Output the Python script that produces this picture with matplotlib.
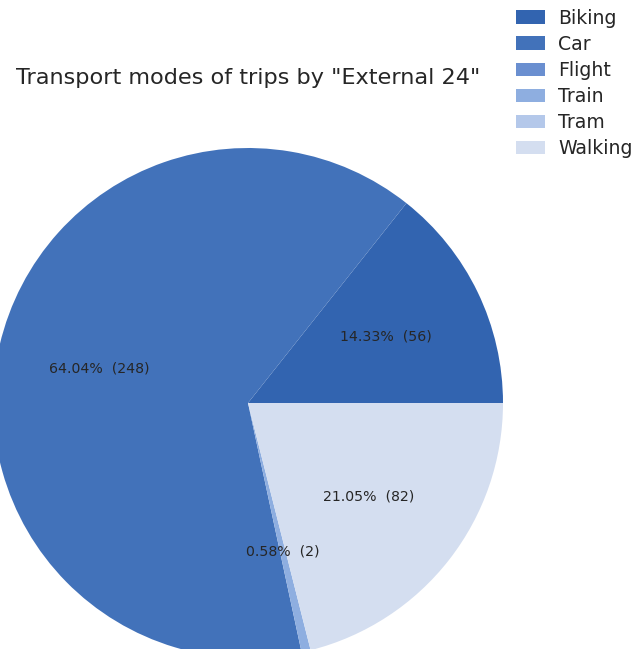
import matplotlib
matplotlib.use("Agg")
from matplotlib import pyplot as plt

modes = ["Biking", "Car", "Flight", "Train", "Tram", "Walking"]
shares = [14.33, 64.04, 0.0, 0.58, 0.0, 21.05]
trips = [56, 248, 0, 2, 0, 82]
colours = ["#3264b0", "#4272ba", "#6a8fd0", "#8eaee0", "#b4c8ea", "#d4def0"]

plt.rcParams['font.family'] = ['DejaVu Sans']

fig = plt.figure(figsize=(6.32, 6.49), dpi=100)
ax = fig.add_axes([-7 / 632, -9 / 649, 510 / 632, 510 / 649])

counts = iter(trips)


def fmt(pct):
    n = next(counts)
    if pct < 0.5:
        return ''
    return '%.2f%%  (%d)' % (pct, n)


wedges, texts, autotexts = ax.pie(shares, colors=colours, autopct=fmt,
                                  startangle=0, counterclock=True,
                                  textprops={'color': '#262626', 'fontsize': 10.2})
ax.set_xlim(-1, 1)
ax.set_ylim(-1, 1)
ax.set_aspect('equal')

fig.text(248 / 632, 1 - 78 / 649, 'Transport modes of trips by "External 24"',
         ha='center', va='center', fontsize=16.1, color='#262626')

fig.legend(wedges, modes, loc='upper right', bbox_to_anchor=(1.0 + 9 / 632, 1.0),
           frameon=False, fontsize=13.6, handlelength=1.5, labelspacing=0.38,
           handletextpad=0.7, borderaxespad=0.05, labelcolor='#262626')

fig.savefig('out.png', dpi=100)
